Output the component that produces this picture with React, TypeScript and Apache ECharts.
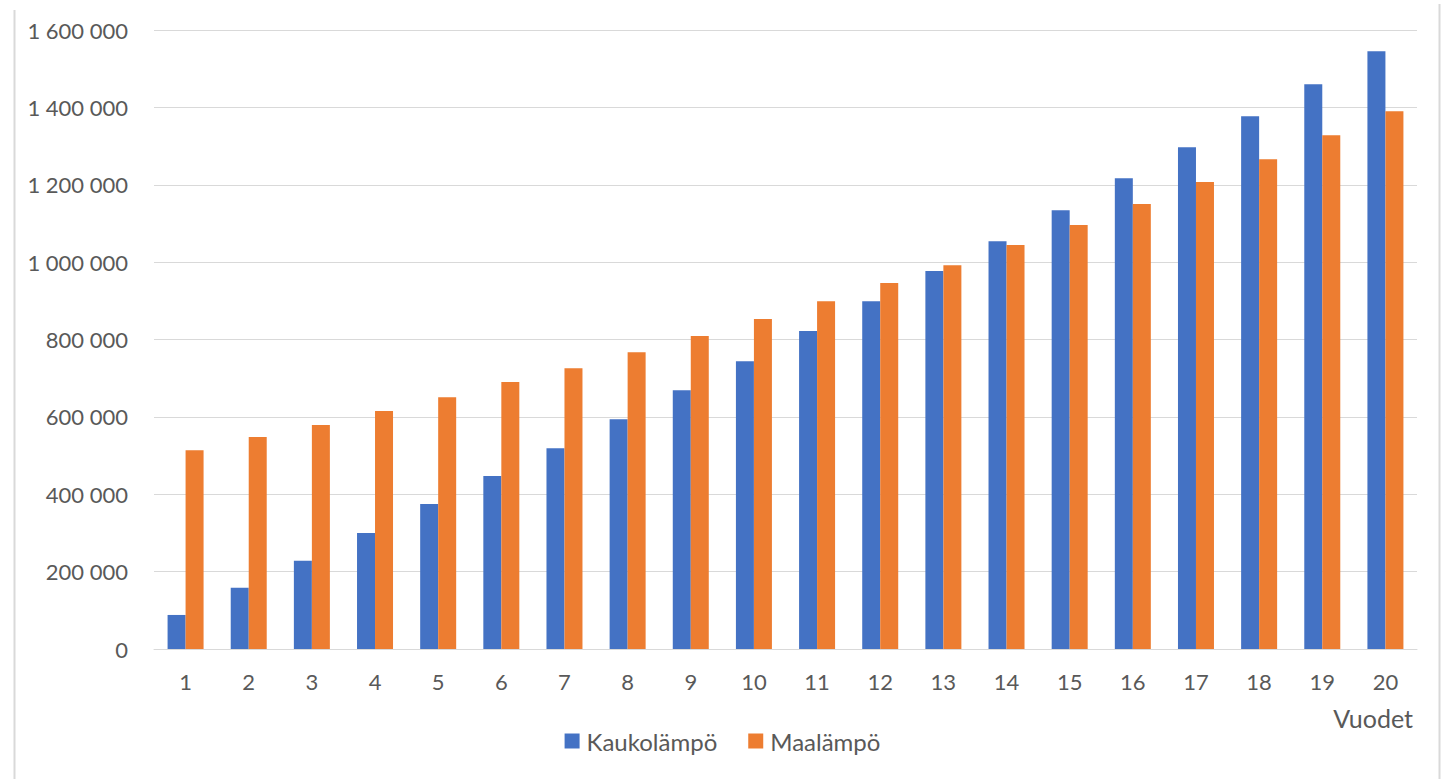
import React, { useEffect, useRef } from "react";
import * as echarts from "echarts";

const years = ["1","2","3","4","5","6","7","8","9","10","11","12","13","14","15","16","17","18","19","20"];
const kaukolampo = [88000,158000,228000,300000,375000,447000,519000,594000,669000,744000,822000,899000,977000,1054000,1134000,1217000,1297000,1377000,1460000,1545000];
const maalampo = [514000,548000,579000,615000,651000,690000,726000,767000,809000,853000,899000,946000,992000,1044000,1096000,1150000,1207000,1266000,1328000,1390000];
const seriesNames = ["Kaukolämpö", "Maalämpö"];
const axisTitle = "Vuodet";

const fmt = (v: number) => String(v).replace(/\B(?=(\d{3})+(?!\d))/g, " ");

export default function App() {
  const ref = useRef<HTMLDivElement>(null);
  useEffect(() => {
    const chart = echarts.init(ref.current!, undefined, { renderer: "svg" });
    const font = "Lato, 'Open Sans', sans-serif";
    chart.setOption({
      animation: false,
      backgroundColor: "#ffffff",
      textStyle: { fontFamily: font },
      grid: { left: 154, right: 28, top: 30, bottom: 130 },
      xAxis: {
        type: "category",
        data: years,
        axisLine: { lineStyle: { color: "#D9D9D9", width: 1 } },
        axisTick: { show: false },
        axisLabel: { color: "#595959", fontSize: 22, margin: 21, fontFamily: font },
      },
      yAxis: {
        type: "value",
        min: 0,
        max: 1600000,
        interval: 200000,
        axisLine: { show: false },
        axisTick: { show: false },
        splitLine: { lineStyle: { color: "#D9D9D9", width: 1 } },
        axisLabel: { color: "#595959", fontSize: 22, margin: 26, fontFamily: font, formatter: (v: number) => fmt(v) },
      },
      legend: {
        bottom: 21,
        left: "center",
        icon: "rect",
        itemWidth: 15,
        itemHeight: 15,
        itemGap: 31,
        textStyle: { color: "#595959", fontSize: 24, fontFamily: font, padding: [0, 0, 0, 2] },
        data: seriesNames,
      },
      graphic: [
        { type: "text", right: 32, top: 705, style: { text: axisTitle, fill: "#595959", font: `25px ${font}` } },
        { type: "line", shape: { x1: 14.5, y1: 10, x2: 14.5, y2: 779 }, style: { stroke: "#D9D9D9", lineWidth: 2 } },
        { type: "line", shape: { x1: 1439.5, y1: 4, x2: 1439.5, y2: 779 }, style: { stroke: "#D9D9D9", lineWidth: 2 } },
      ],
      series: [
        { name: seriesNames[0], type: "bar", data: kaukolampo, barWidth: 18, barGap: "0%", itemStyle: { color: "#4472C4" } },
        { name: seriesNames[1], type: "bar", data: maalampo, barWidth: 18, barGap: "0%", itemStyle: { color: "#ED7D31" } },
      ],
    });
    return () => chart.dispose();
  }, []);
  return <div ref={ref} style={{ position: "fixed", left: 0, top: 0, width: 1445, height: 779 }} />;
}
